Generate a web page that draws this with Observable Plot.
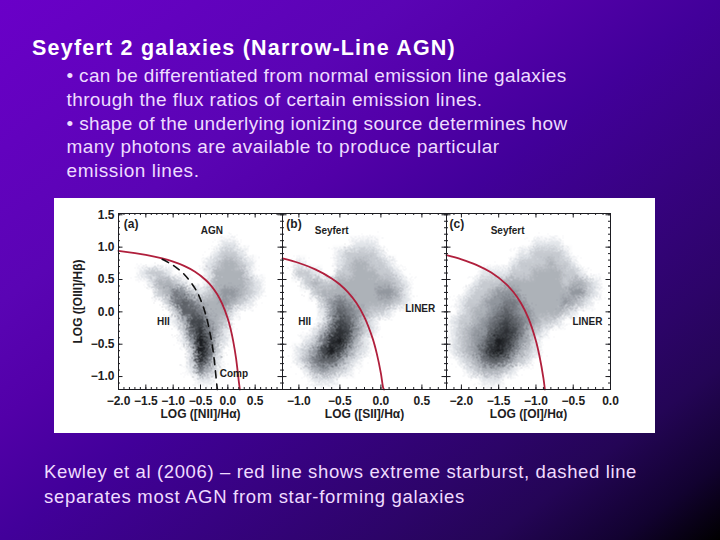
<!DOCTYPE html>
<html><head><meta charset="utf-8">
<script src="https://cdn.jsdelivr.net/npm/d3@7"></script>
<script src="https://cdn.jsdelivr.net/npm/@observablehq/plot@0.6"></script>
<style>
html,body{margin:0;padding:0;width:720px;height:540px;overflow:hidden}
body{position:relative;background:linear-gradient(to bottom right,#6a00c8 0%,#5a04b4 28%,#5200a8 39%,#42009a 50%,#2c0468 76%,#240556 84%,#120230 93%,#000 100%);font-family:"Liberation Sans",Arial,sans-serif}
.t{position:absolute;white-space:pre;line-height:1}
#box{position:absolute;left:54px;top:198px;width:601px;height:235px;background:#fff}
#box svg{position:absolute;top:0;overflow:visible;background:transparent}
</style></head><body>
<div id="text"></div>
<div id="box"></div>
<script>
const titleLine = "Seyfert 2 galaxies (Narrow-Line AGN)";
const bodyLines = [
  "• can be differentiated from normal emission line galaxies",
  "through the flux ratios of certain emission lines.",
  "• shape of the underlying ionizing source determines how",
  "many photons are available to produce particular",
  "emission lines."
];
const captionLines = [
  "Kewley et al (2006) – red line shows extreme starburst, dashed line",
  "separates most AGN from star-forming galaxies"
];

// density: one row per y, each [first x, values...]
const rowY = [1.2,1.05,.9,.75,.6,.45,.3,.15,0,-.15,-.3,-.45,-.6,-.75,-.9,-1.05,-1.2];
const densityA = [
 [],
 [-.05,1,1],
 [-.2,1,2,2,1],
 [-.35,1,2,3,3,2,1],
 [-1.55,1,2,2,1,0,0,0,0,1,3,3,3,3,1],
 [-1.4,1,3,3,2,1,0,0,1,3,3,3,3,2,1],
 [-1.25,2,3,5,4,2,1,2,3,4,4,3,2,1],
 [-1.1,2,5,6,5,3,3,3,4,3,2,1],
 [-.95,2,6,6,5,3,3,3,1],
 [-.95,1,3,7,7,4,3,2],
 [-.8,2,6,8,5,3,1],
 [-.8,1,4,9,6,2,1],
 [-.65,2,9,6,2],
 [-.65,2,8,5,1],
 [-.65,1,5,3,1],
 [-.5,1,1],
 []
];
const densityB = [
 [],
 [-.3,1,1,1],
 [-.5,1,2,2,2,2,1],
 [-1.0,1,0,0,0,0,1,2,3,3,2,2,1],
 [-1.0,2,2,1,0,0,2,2,3,3,3,2,2,1],
 [-.9,2,3,2,2,3,3,3,3,3,3,3,2,1],
 [-.8,2,3,3,3,3,3,3,3,4,4,3,1],
 [-.7,2,4,5,4,3,3,3,3,3,2,1],
 [-.7,1,4,6,5,4,3,2,2,1],
 [-.7,1,4,7,6,4,2,1],
 [-.8,1,3,6,8,7,4,2,1],
 [-.9,1,2,5,8,9,6,3,1],
 [-1.0,1,2,4,7,9,7,4,2,1],
 [-1.0,1,3,5,6,6,4,2,1],
 [-.9,1,3,4,3,2,1],
 [-.8,1,1,1],
 []
];
const densityC = [
 [],
 [-1.0,1,1,1,1],
 [-1.2,1,1,2,2,2,2,1],
 [-1.3,1,2,2,2,2,3,2,2,1],
 [-1.7,1,1,1,1,2,2,2,3,3,3,3,2,2,1],
 [-1.8,1,2,2,2,3,3,3,3,3,3,3,3,2,3,3,2,1],
 [-1.9,1,2,2,3,4,4,4,3,3,3,3,3,3,3,4,4,2,1],
 [-2.0,1,2,2,3,4,4,5,5,4,3,3,3,3,3,4,3,2,1],
 [-2.0,1,2,3,3,4,5,6,5,4,4,3,3,3,3,2,1],
 [-2.1,1,2,2,3,4,5,6,7,6,5,4,3,2,2,1],
 [-2.1,1,2,3,4,4,6,7,8,7,5,3,2,1],
 [-2.1,1,2,3,4,5,7,9,8,6,4,3,1],
 [-2.1,1,2,3,4,6,8,9,7,5,3,2,1],
 [-2.0,1,2,3,5,6,6,5,3,2,1],
 [-1.9,1,2,3,3,3,2,1],
 [-1.7,1,1,1],
 []
];

// red maximum-starburst curves and the dashed composite line
const redAx = [-2,-1.5,-1.2,-1,-.8,-.6,-.4,-.3,-.2,-.1,0,.05,.1,.15,.2,.22];
const redAy = [.943,.88,.825,.775,.71,.62,.489,.398,.28,.12,-.108,-.262,-.459,-.716,-1.069,-1.2];
const dashAx = [-1.2,-1,-.8,-.6,-.5,-.4,-.3,-.25,-.2,-.19];
const dashAy = [.812,.719,.582,.362,.191,-.056,-.443,-.733,-1.14,-1.2];
const redBx = [-1.2,-1,-.8,-.6,-.5,-.4,-.3,-.2,-.1,-.05,0,.03,.04];
const redBy = [.826,.755,.657,.517,.422,.3,.139,-.085,-.414,-.646,-.95,-1.183,-1.2];
const redCx = [-2.2,-2,-1.8,-1.6,-1.4,-1.3,-1.2,-1.1,-1,-.95,-.9,-.88];
const redCy = [.877,.812,.727,.607,.429,.302,.133,-.101,-.45,-.698,-1.025,-1.2];

const ink = "#1d1d22";
const grays = ["#ffffff","#e2e5ea","#c6cad0","#aeb2b9","#92979e","#777b82","#5d6167","#44484d","#2e3135","#1b1d20"];
const font = "Liberation Sans, Arial, sans-serif";
const seq = (a,b,s)=>d3.range(Math.round((b-a)/s)+1).map(i=>+(a+i*s).toFixed(3));
const yd = [-1.2,1.52];

function cells(rows, xs){
  const out = [];
  rowY.forEach((y,r)=>{
    const row = rows[r];
    xs.forEach(x=>{
      let v = 0;
      if(row.length){ const k = Math.round((x-row[0])/(xs[1]-xs[0])); if(k>=0 && k<row.length-1) v = row[k+1]; }
      out.push({x,y,v});
    });
  });
  return out;
}
function panel({left,mLeft,mRight,xd,xstep,rows,xticks,red,dash,notes,xlabel,ylabel,showY}){
  const xs = seq(xd[0],xd[1],xstep);
  const grid = cells(rows,xs);
  const marks = [
    Plot.raster(grid,{x:"x",y:"y",fill:"v",interpolate:"barycentric",pixelSize:1}),
    Plot.raster(grid,{x:"x",y:"y",fill:"v",interpolate:"random-walk",pixelSize:1,opacity:.55}),
    Plot.line(red[0].map((x,i)=>({x,y:red[1][i]})),{x:"x",y:"y",stroke:"#b01f3c",strokeWidth:1.8,curve:"catmull-rom"})
  ];
  if(dash) marks.push(Plot.line(dash[0].map((x,i)=>({x,y:dash[1][i]})),{x:"x",y:"y",stroke:"#111",strokeWidth:1.6,strokeDasharray:"7,6",curve:"catmull-rom"}));
  marks.push(Plot.text(notes,{x:"x",y:"y",text:"t",fontSize:"s",fontWeight:"bold",fontFamily:font,fill:ink}));
  const minorX = seq(xd[0],xd[1],.1), majorX = minorX.filter(v=>Math.abs(v*2-Math.round(v*2))<1e-6);
  const minorY = seq(-1.2,1.5,.1), majorY = minorY.filter(v=>Math.abs(v*2-Math.round(v*2))<1e-6);
  const dy = (yd[1]-yd[0])/176, dx = (xd[1]-xd[0])/164;
  [[minorX,2],[majorX,4.5]].forEach(([vals,n])=>{
    marks.push(Plot.ruleX(vals,{y1:yd[0],y2:yd[0]+n*dy,stroke:ink}));
    marks.push(Plot.ruleX(vals,{y1:yd[1],y2:yd[1]-n*dy,stroke:ink}));
  });
  [[minorY,2],[majorY,4.5]].forEach(([vals,n])=>{
    marks.push(Plot.ruleY(vals,{x1:xd[0],x2:xd[0]+n*dx,stroke:ink}));
    marks.push(Plot.ruleY(vals,{x1:xd[1],x2:xd[1]-n*dx,stroke:ink}));
  });
  marks.push(Plot.axisX(xticks,{anchor:"bottom",tickSize:0,tickPadding:7,tickFormat:d3.format(".1f"),fontSize:12,fontWeight:"bold",fontFamily:font,fill:ink,label:xlabel,labelAnchor:"center",labelArrow:"none",labelOffset:28}));
  if(showY) marks.push(Plot.axisY([1.5,1,.5,0,-.5,-1],{anchor:"left",tickSize:0,tickPadding:4,tickFormat:d3.format(".1f"),fontSize:12,fontWeight:"bold",fontFamily:font,fill:ink,label:ylabel,labelAnchor:"center",labelArrow:"none",labelOffset:45}));
  marks.push(Plot.frame({stroke:ink,strokeWidth:1}));
  const svg = Plot.plot({
    width:mLeft+164+mRight,height:235,marginLeft:mLeft,marginRight:mRight,marginTop:15,marginBottom:44,
    x:{domain:xd},y:showY?{domain:yd}:{domain:yd,axis:null},
    color:{type:"linear",domain:d3.range(10),range:grays,clamp:true},
    style:{background:"transparent",fontFamily:font,overflow:"visible"},
    marks
  });
  svg.style.left = left+"px";
  document.getElementById("box").appendChild(svg);
}
panel({left:0,mLeft:64,mRight:0,xd:[-2,1],xstep:.15,rows:densityA,xticks:[-2,-1.5,-1,-.5,0,.5],
  red:[redAx,redAy],dash:[dashAx,dashAy],xlabel:"LOG ([NII]/Hα)",ylabel:"LOG ([OIII]/Hβ)",showY:true,
  notes:[{x:-1.77,y:1.35,t:"(a)",s:12},{x:-.29,y:1.25,t:"AGN",s:10},{x:-1.18,y:-.15,t:"HII",s:10},{x:.11,y:-.96,t:"Comp",s:10}]});
panel({left:228,mLeft:0,mRight:0,xd:[-1.2,.8],xstep:.1,rows:densityB,xticks:[-1,-.5,0,.5],
  red:[redBx,redBy],xlabel:"LOG ([SII]/Hα)",
  notes:[{x:-1.06,y:1.35,t:"(b)",s:12},{x:-.6,y:1.25,t:"Seyfert",s:10},{x:-.93,y:-.15,t:"HII",s:10},{x:.48,y:.04,t:"LINER",s:10}]});
panel({left:392,mLeft:0,mRight:45,xd:[-2.2,0],xstep:.1,rows:densityC,xticks:[-2,-1.5,-1,-.5,0],
  red:[redCx,redCy],xlabel:"LOG ([OI]/Hα)",
  notes:[{x:-2.06,y:1.35,t:"(c)",s:12},{x:-1.38,y:1.25,t:"Seyfert",s:10},{x:-.31,y:-.15,t:"LINER",s:10}]});

const tx = document.getElementById("text");
function put(s,x,y,size,weight,color,target){
  const d = document.createElement("div");
  d.className="t"; d.textContent=s;
  d.style.cssText=`left:${x}px;top:${y-size/2}px;font-size:${size}px;font-weight:${weight};color:${color}`;
  tx.appendChild(d);
  if(target){ const w=d.getBoundingClientRect().width; d.style.letterSpacing=((target-w)/s.length)+"px"; }
}
put(titleLine,32,49,21.5,"bold","#ffffff",424);
[[500],[416],[501],[433],[133]].forEach(([w],i)=>put(bodyLines[i],66.5,75.5+i*23.8,19,"normal","#eedcff",w));
put(captionLines[0],44,472,18.5,"normal","#f0dcff",593);
put(captionLines[1],44,497,18.5,"normal","#f0dcff",421);
</script>
</body></html>
